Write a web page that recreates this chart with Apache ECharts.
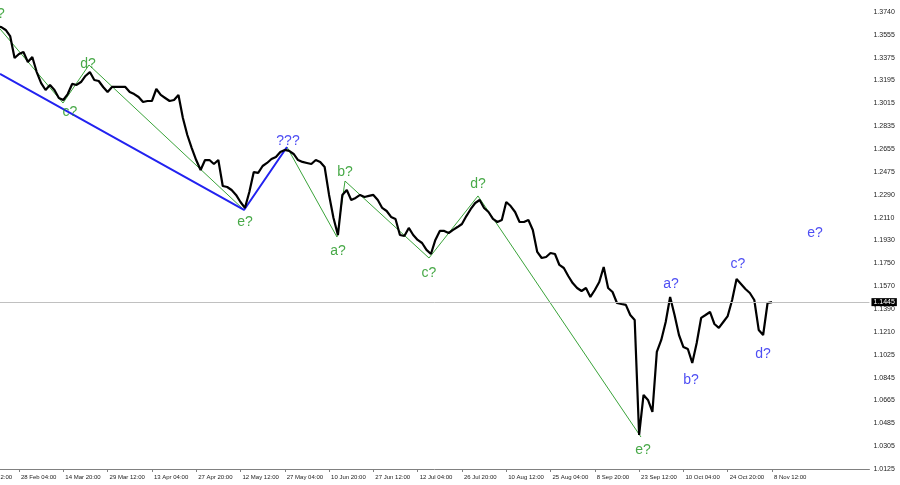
<!DOCTYPE html>
<html>
<head>
<meta charset="utf-8">
<script src="https://cdn.jsdelivr.net/npm/echarts@6/dist/echarts.min.js"></script>
<style>
html, body { margin: 0; padding: 0; background: #fff; }
#chart { width: 900px; height: 485px; }
</style>
</head>
<body>
<div id="chart"></div>
<script>
// 时间轴标签 每10根一个
var xLabels = ['13 Feb 12:00', '28 Feb 04:00', '14 Mar 20:00', '29 Mar 12:00', '13 Apr 04:00',
	'27 Apr 20:00', '12 May 12:00', '27 May 04:00', '10 Jun 20:00', '27 Jun 12:00', '12 Jul 04:00',
	'26 Jul 20:00', '10 Aug 12:00', '25 Aug 04:00', '8 Sep 20:00', '23 Sep 12:00', '10 Oct 04:00',
	'24 Oct 20:00', '8 Nov 12:00'];
// 价格刻度
var yTicks = ['1.0125', '1.0305', '1.0485', '1.0665', '1.0845', '1.1025', '1.1210', '1.1390', '1.1570',
	'1.1750', '1.1930', '1.2110', '1.2290', '1.2475', '1.2655', '1.2835', '1.3015', '1.3195', '1.3375',
	'1.3555', '1.3740'];
var barCount = 203; // x轴总格数
var firstBar = 5;   // closes[0] 对应的格
var closes = [
	1.3629, 1.3621, 1.3598, 1.3550, 1.3376, 1.3408, 1.3424, 1.3345, 1.3384, 1.3265,
	1.3178, 1.3123, 1.3163, 1.3123, 1.3060, 1.3044, 1.3091, 1.3171, 1.3163, 1.3186,
	1.3234, 1.3265, 1.3202, 1.3194, 1.3147, 1.3107, 1.3147, 1.3147, 1.3147, 1.3147,
	1.3107, 1.3091, 1.3068, 1.3028, 1.3036, 1.3036, 1.3131, 1.3084, 1.3060, 1.3036,
	1.3044, 1.3084, 1.2902, 1.2767, 1.2664, 1.2569, 1.2490, 1.2569, 1.2569, 1.2538,
	1.2569, 1.2364, 1.2356, 1.2332, 1.2293, 1.2237, 1.2190, 1.2316, 1.2474, 1.2467,
	1.2522, 1.2546, 1.2577, 1.2593, 1.2633, 1.2649, 1.2641, 1.2617, 1.2569, 1.2554,
	1.2546, 1.2538, 1.2569, 1.2554, 1.2514, 1.2293, 1.2111, 1.1976, 1.2293, 1.2332,
	1.2253, 1.2269, 1.2293, 1.2277, 1.2285, 1.2293, 1.2253, 1.2190, 1.2166, 1.2119,
	1.2103, 1.1976, 1.1968, 1.2032, 1.1976, 1.1937, 1.1913, 1.1858, 1.1826, 1.1937,
	1.2008, 1.2008, 1.1992, 1.2016, 1.2039, 1.2063, 1.2126, 1.2182, 1.2229, 1.2253,
	1.2190, 1.2158, 1.2103, 1.2079, 1.2095, 1.2237, 1.2205, 1.2158, 1.2079, 1.2079,
	1.2095, 1.2016, 1.1842, 1.1794, 1.1802, 1.1834, 1.1826, 1.1739, 1.1715, 1.1652,
	1.1596, 1.1557, 1.1533, 1.1557, 1.1486, 1.1541, 1.1604, 1.1723, 1.1557, 1.1525,
	1.1438, 1.1430, 1.1423, 1.1343, 1.1304, 1.0394, 1.0711, 1.0671, 1.0576, 1.1051,
	1.1146, 1.1288, 1.1486, 1.1343, 1.1185, 1.1090, 1.1074, 1.0964, 1.1122, 1.1320,
	1.1343, 1.1367, 1.1272, 1.1241, 1.1288, 1.1335, 1.1462, 1.1628, 1.1589, 1.1549,
	1.1517, 1.1462, 1.1225, 1.1185, 1.1438, 1.1445
];
var lastPrice = 1.1445;

// 波浪线 (格位置, 价格)
var greenWave1X = [5.71, 19.93, 25.80, 60.80];
var greenWave1Y = [1.3606, 1.3020, 1.3321, 1.2174];
var greenWave2X = [70.50, 81.79, 83.60, 102.56, 113.62, 150.42];
var greenWave2Y = [1.2672, 1.1960, 1.2403, 1.1794, 1.2285, 1.0378];
var blueWaveX = [5.71, 60.80, 70.50];
var blueWaveY = [1.3250, 1.2174, 1.2672];

// 波浪标注
var greenMarks = ['b?', 'c?', 'd?', 'e?', 'a?', 'b?', 'c?', 'd?', 'e?'];
var greenMarkX = [5.03, 21.51, 25.58, 61.02, 82.02, 83.60, 102.56, 113.62, 150.87];
var greenMarkY = [1.3724, 1.2949, 1.3329, 1.2079, 1.1850, 1.2475, 1.1676, 1.2380, 1.0276];
var blueMarks = ['???', 'a?', 'b?', 'c?', 'd?', 'e?'];
var blueMarkX = [70.73, 157.20, 161.71, 172.32, 177.97, 189.71];
var blueMarkY = [1.2720, 1.1589, 1.0829, 1.1747, 1.1035, 1.1992];

var GREEN_LINE = '#3aa33a';
var GREEN_TEXT = '#1a941a';
var BLUE = '#2222f0';
var AXIS = '#808080';

var _pairs = function(xs, ys) {
	var out = [];
	for (var i = 0; i < xs.length; i++) out.push([xs[i], ys[i]]);
	return out;
};
var _marks = function(names, xs, ys, color) {
	var out = [];
	for (var i = 0; i < names.length; i++) {
		out.push({ name: names[i], value: [xs[i], ys[i]], label: { color: color } });
	}
	return out;
};

var cats = [];
var priceData = [];
for (var i = 0; i < barCount; i++) {
	cats.push(String(i));
	var k = i - firstBar;
	priceData.push(k >= 0 && k < closes.length ? closes[k] : null);
}
var _isLabel = function(index) {
	return index % 10 === 0 && index / 10 < xLabels.length;
};

var chart = echarts.init(document.getElementById('chart'));
chart.setOption({
	animation: false,
	backgroundColor: '#fff',
	grid: { left: -25.29, right: 30.55, top: 0, bottom: 16, containLabel: false, outerBoundsMode: 'none' },
	xAxis: [{
		type: 'category',
		data: cats,
		boundaryGap: false,
		axisLine: { lineStyle: { color: AXIS, width: 1 } },
		axisTick: { interval: function(index) { return _isLabel(index); }, length: 3, lineStyle: { color: AXIS } },
		axisLabel: {
			interval: function(index) { return _isLabel(index); },
			formatter: function(v, index) { return _isLabel(index) ? xLabels[index / 10] : ''; },
			align: 'left', margin: 5, padding: [0, 0, 0, 2],
			fontFamily: 'Liberation Sans', fontSize: 6, color: '#222'
		},
		splitLine: { show: false }
	}, {
		type: 'value', min: 0, max: barCount - 1, show: false
	}],
	yAxis: {
		type: 'value',
		position: 'right',
		min: 1.0125, max: 1.3835, interval: 0.018075,
		axisLine: { show: true, lineStyle: { color: AXIS, width: 1 } },
		axisTick: { show: true, length: 3, lineStyle: { color: AXIS } },
		axisLabel: {
			margin: 4,
			formatter: function(v) {
				var n = Math.round((v - 1.0125) / 0.018075);
				return Math.abs(1.0125 + n * 0.018075 - v) < 1e-6 && yTicks[n] ? yTicks[n] : '';
			},
			fontFamily: 'Liberation Sans', fontSize: 7, color: '#222'
		},
		splitLine: { show: false }
	},
	series: [{
		type: 'line',
		name: 'GBPUSD',
		data: priceData,
		showSymbol: false,
		lineStyle: { color: '#000', width: 2.2 },
		z: 4,
		markLine: {
			silent: true,
			symbol: 'none',
			precision: 4,
			lineStyle: { color: '#c0c0c0', type: 'solid', width: 1 },
			label: {
				position: 'end', distance: 2,
				formatter: lastPrice.toFixed(4),
				backgroundColor: '#000', color: '#fff', padding: [1, 2, 0, 2],
				fontFamily: 'Liberation Sans', fontSize: 7
			},
			data: [{ yAxis: lastPrice }]
		}
	}, {
		type: 'line', xAxisIndex: 1, data: _pairs(greenWave1X, greenWave1Y),
		symbol: 'none', lineStyle: { color: GREEN_LINE, width: 1 }, z: 3
	}, {
		type: 'line', xAxisIndex: 1, data: _pairs(greenWave2X, greenWave2Y),
		symbol: 'none', lineStyle: { color: GREEN_LINE, width: 1 }, z: 3
	}, {
		type: 'line', xAxisIndex: 1, data: _pairs(blueWaveX, blueWaveY),
		symbol: 'none', lineStyle: { color: BLUE, width: 2 }, z: 3
	}, {
		type: 'scatter', xAxisIndex: 1, symbolSize: 0, clip: false,
		data: _marks(greenMarks, greenMarkX, greenMarkY, GREEN_TEXT).concat(_marks(blueMarks, blueMarkX, blueMarkY, BLUE)),
		label: {
			show: true, position: 'inside', formatter: '{b}',
			fontFamily: 'Liberation Sans', fontSize: 14
		},
		z: 5
	}]
});
</script>
</body>
</html>
